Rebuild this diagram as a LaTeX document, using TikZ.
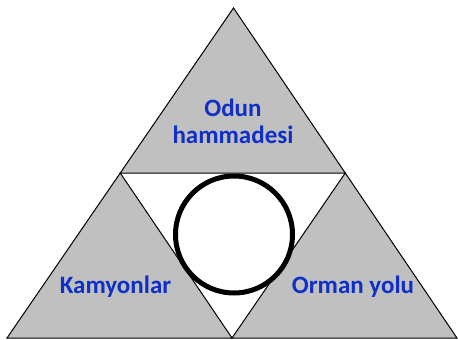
\documentclass[tikz,border=0pt]{standalone}
\usepackage{fontspec}
\setmainfont{Carlito}
\usetikzlibrary{calc}
\definecolor{trGray}{HTML}{C0C0C0}
\definecolor{trBlue}{HTML}{0F2FC6}

\begin{document}
\begin{tikzpicture}[
  x=1pt, y=-1pt,
  part/.style={draw=black, line width=1pt, fill=trGray, line join=miter},
  lbl/.style={font=\bfseries\fontsize{25}{27}\selectfont, text=trBlue, align=center},
  hub/.style={circle, draw=black, line width=5pt, fill=white,
    minimum size=117pt, inner sep=0pt}
]
\useasboundingbox (0,0) rectangle (458,340);

% ---- corners --------------------------------------------------------------
\coordinate (apex) at (233.5,8);
\coordinate (bl) at (7,338);
\coordinate (br) at (457,338);
\coordinate (ml) at ($(apex)!0.5!(bl)$);
\coordinate (mr) at ($(apex)!0.5!(br)$);
\coordinate (mb) at ($(bl)!0.5!(br)$);

% ---- triangles ------------------------------------------------------------
\draw[part] (apex) -- (mr) -- (ml) -- cycle;
\draw[part] (ml) -- (mb) -- (bl) -- cycle;
\draw[part] (mr) -- (br) -- (mb) -- cycle;

% ---- centre ring ----------------------------------------------------------
\node[hub] (hub) at (234,234.5) {};

% ---- labels ---------------------------------------------------------------
\node[lbl] (odun) at (233,121) {Odun\\hammadesi};
\node[lbl, anchor=base] (kamyon) at (115.5,293) {Kamyonlar};
\node[lbl, anchor=base] (orman) at (353,293) {Orman yolu};

\end{tikzpicture}
\end{document}
